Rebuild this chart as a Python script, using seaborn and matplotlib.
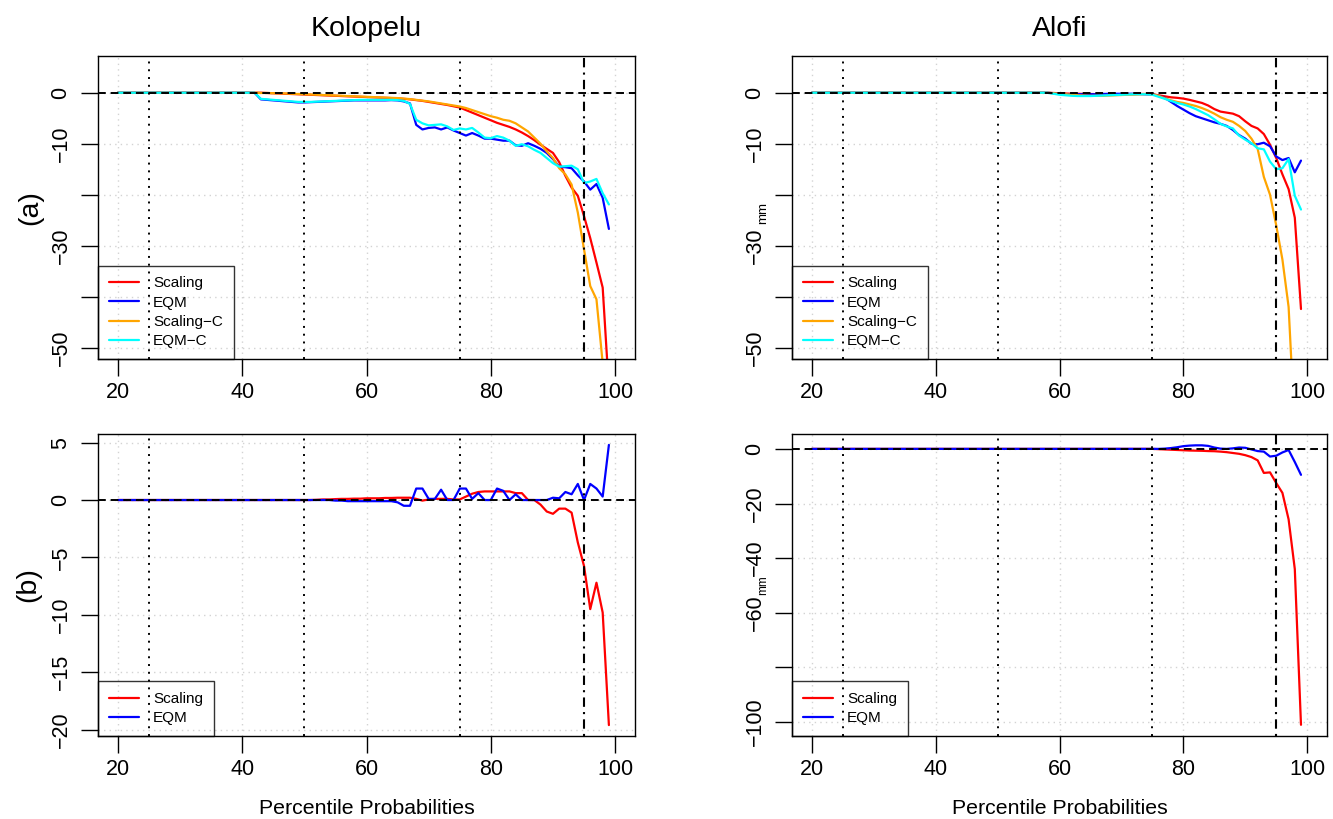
import matplotlib
matplotlib.use("Agg")
import matplotlib.pyplot as plt
import seaborn as sns
import pandas as pd
from matplotlib.lines import Line2D

# ---------------- data (percentile probability 20..99) ----------------
pct = [20, 21, 22, 23, 24, 25, 26, 27, 28, 29,
       30, 31, 32, 33, 34, 35, 36, 37, 38, 39,
       40, 41, 42, 43, 44, 45, 46, 47, 48, 49,
       50, 51, 52, 53, 54, 55, 56, 57, 58, 59,
       60, 61, 62, 63, 64, 65, 66, 67, 68, 69,
       70, 71, 72, 73, 74, 75, 76, 77, 78, 79,
       80, 81, 82, 83, 84, 85, 86, 87, 88, 89,
       90, 91, 92, 93, 94, 95, 96, 97, 98, 99]

# (a) Kolopelu
kol_scaling = [0, 0, 0, 0, 0, 0, 0, 0, 0, 0,
               0, 0, 0, 0, 0, 0, 0, 0, 0, 0,
               0, 0, 0, 0, -0.05, -0.1, -0.15, -0.2, -0.25, -0.3,
               -0.35, -0.4, -0.45, -0.5, -0.55, -0.6, -0.65, -0.7, -0.75, -0.8,
               -0.85, -0.9, -0.95, -1.0, -1.05, -1.1, -1.2, -1.3, -1.45, -1.6,
               -1.8, -2.0, -2.2, -2.4, -2.65, -2.9, -3.4, -3.9, -4.4, -4.9,
               -5.4, -5.9, -6.3, -6.7, -7.2, -7.8, -8.5, -9.3, -10.2, -11.0,
               -11.8, -13.6, -16.3, -18.6, -20.2, -24.2, -28.5, -33.3, -38.2, -58.0]
kol_eqm = [0, 0, 0, 0, 0, 0, 0, 0, 0, 0,
           0, 0, 0, 0, 0, 0, 0, 0, 0, 0,
           0, 0, 0, -1.3, -1.4, -1.5, -1.6, -1.7, -1.8, -1.9,
           -1.9, -1.85, -1.8, -1.75, -1.7, -1.65, -1.6, -1.55, -1.5, -1.5,
           -1.5, -1.5, -1.5, -1.5, -1.45, -1.5, -1.7, -2.1, -6.3, -7.2,
           -6.9, -6.8, -7.2, -6.8, -7.4, -7.9, -8.4, -7.9, -8.4, -9.0,
           -9.0, -9.2, -9.4, -9.4, -10.3, -10.4, -9.9, -10.4, -11.0, -11.8,
           -13.0, -14.5, -14.6, -14.8, -16.2, -17.4, -19.0, -17.9, -20.6, -26.7]
kol_scaling_c = [0, 0, 0, 0, 0, 0, 0, 0, 0, 0,
                 0, 0, 0, 0, 0, 0, 0, 0, 0, 0,
                 0, 0, 0, -0.05, -0.05, -0.1, -0.1, -0.15, -0.2, -0.25,
                 -0.3, -0.35, -0.4, -0.45, -0.5, -0.55, -0.6, -0.65, -0.7, -0.75,
                 -0.8, -0.85, -0.9, -0.95, -1.0, -1.05, -1.15, -1.25, -1.4, -1.55,
                 -1.7, -1.9, -2.1, -2.3, -2.5, -2.7, -3.0, -3.4, -3.8, -4.2,
                 -4.6, -4.9, -5.3, -5.5, -6.0, -6.8, -7.6, -8.8, -10.0, -11.5,
                 -12.8, -14.8, -16.0, -18.0, -23.5, -30.7, -37.9, -40.5, -53.0, -75.0]
kol_eqm_c = [0, 0, 0, 0, 0, 0, 0, 0, 0, 0,
             0, 0, 0, 0, 0, 0, 0, 0, 0, 0,
             0, 0, 0, -1.2, -1.3, -1.4, -1.5, -1.6, -1.7, -1.8,
             -1.8, -1.8, -1.75, -1.7, -1.65, -1.6, -1.55, -1.5, -1.45, -1.4,
             -1.4, -1.4, -1.4, -1.4, -1.4, -1.45, -1.6, -2.2, -5.3, -6.0,
             -6.4, -6.3, -6.2, -6.6, -7.3, -7.0, -7.2, -6.9, -7.8, -8.8,
             -8.9, -8.5, -8.8, -9.4, -10.4, -10.1, -10.5, -11.2, -11.8, -12.8,
             -13.8, -14.5, -14.4, -14.3, -15.0, -17.7, -17.4, -16.9, -19.7, -21.9]

# (a) Alofi
alo_scaling = [0, 0, 0, 0, 0, 0, 0, 0, 0, 0,
               0, 0, 0, 0, 0, 0, 0, 0, 0, 0,
               0, 0, 0, 0, 0, 0, 0, 0, 0, 0,
               0, 0, 0, 0, 0, 0, 0, 0, 0, -0.05,
               -0.1, -0.15, -0.2, -0.2, -0.25, -0.25, -0.3, -0.3, -0.3, -0.3,
               -0.3, -0.3, -0.3, -0.25, -0.25, -0.3, -0.5, -0.7, -0.9, -1.0,
               -1.15, -1.4, -1.7, -2.0, -2.5, -3.2, -3.7, -3.9, -4.1, -4.6,
               -5.6, -6.5, -7.0, -8.1, -10.2, -12.8, -16.0, -18.9, -24.5, -42.4]
alo_eqm = [0, 0, 0, 0, 0, 0, 0, 0, 0, 0,
           0, 0, 0, 0, 0, 0, 0, 0, 0, 0,
           0, 0, 0, 0, 0, 0, 0, 0, 0, 0,
           0, 0, 0, 0, 0, 0, 0, 0, 0, -0.1,
           -0.2, -0.3, -0.3, -0.3, -0.3, -0.3, -0.3, -0.25, -0.2, -0.2,
           -0.2, -0.2, -0.2, -0.25, -0.3, -0.3, -0.6, -1.0, -1.8, -2.6,
           -3.3, -4.0, -4.6, -5.0, -5.4, -5.8, -6.1, -6.5, -7.3, -8.3,
           -9.0, -10.0, -10.1, -9.8, -10.5, -12.5, -13.2, -12.8, -15.6, -13.3]
alo_scaling_c = [0, 0, 0, 0, 0, 0, 0, 0, 0, 0,
                 0, 0, 0, 0, 0, 0, 0, 0, 0, 0,
                 0, 0, 0, 0, 0, 0, 0, 0, 0, 0,
                 0, 0, 0, 0, 0, 0, 0, 0, 0, -0.1,
                 -0.2, -0.3, -0.4, -0.5, -0.55, -0.6, -0.6, -0.6, -0.55, -0.5,
                 -0.45, -0.4, -0.35, -0.3, -0.25, -0.3, -0.6, -1.1, -1.5, -1.8,
                 -2.0, -2.3, -2.6, -3.0, -3.5, -4.1, -4.8, -5.3, -5.7, -6.5,
                 -7.5, -9.0, -11.0, -16.5, -20.0, -26.0, -32.7, -42.0, -66.0, -90.0]
alo_eqm_c = [0, 0, 0, 0, 0, 0, 0, 0, 0, 0,
             0, 0, 0, 0, 0, 0, 0, 0, 0, 0,
             0, 0, 0, 0, 0, 0, 0, 0, 0, 0,
             0, 0, 0, 0, 0, 0, 0, 0, 0, -0.2,
             -0.4, -0.5, -0.6, -0.65, -0.65, -0.65, -0.6, -0.55, -0.5, -0.45,
             -0.4, -0.35, -0.3, -0.3, -0.3, -0.4, -0.8, -1.2, -1.6, -2.0,
             -2.3, -2.7, -3.2, -3.8, -4.4, -5.2, -6.1, -6.6, -7.0, -8.4,
             -9.2, -9.9, -10.9, -11.1, -13.5, -15.0, -14.8, -13.0, -20.2, -22.9]

# (b) Kolopelu
kol_d_scaling = [0, 0, 0, 0, 0, 0, 0, 0, 0, 0,
                 0, 0, 0, 0, 0, 0, 0, 0, 0, 0,
                 0, 0, 0, 0, 0, 0, 0, 0, 0, 0,
                 0, 0, 0.02, 0.05, 0.05, 0.08, 0.1, 0.1, 0.12, 0.12,
                 0.15, 0.15, 0.15, 0.18, 0.18, 0.2, 0.2, 0.2, 0.1, -0.05,
                 0.05, 0.1, 0.1, 0.1, 0.05, 0.05, 0.3, 0.55, 0.7, 0.75,
                 0.75, 0.75, 0.75, 0.75, 0.6, 0.6, 0.0, 0.0, -0.4, -1.0,
                 -1.2, -0.75, -0.75, -1.1, -3.7, -5.75, -9.5, -7.2, -9.8, -19.6]
kol_d_eqm = [0, 0, 0, 0, 0, 0, 0, 0, 0, 0,
             0, 0, 0, 0, 0, 0, 0, 0, 0, 0,
             0, 0, 0, 0, 0, 0, 0, 0, 0, 0,
             0, 0, 0, 0, 0, -0.05, -0.05, -0.1, -0.1, -0.1,
             -0.1, -0.1, -0.1, -0.1, -0.1, -0.2, -0.5, -0.5, 1.0, 1.0,
             0.1, 0.1, 0.9, 0.0, 0.0, 1.0, 1.0, 0.1, 0.6, 0.0,
             0.0, 1.0, 0.8, 0.0, 0.5, 0.0, 0.0, 0.0, 0.0, 0.0,
             0.2, 0.15, 0.7, 0.5, 1.4, 0.0, 1.4, 1.0, 0.3, 4.8]

# (b) Alofi
alo_d_scaling = [0, 0, 0, 0, 0, 0, 0, 0, 0, 0,
                 0, 0, 0, 0, 0, 0, 0, 0, 0, 0,
                 0, 0, 0, 0, 0, 0, 0, 0, 0, 0,
                 0, 0, 0, 0, 0, 0, 0, 0, 0, 0,
                 0, 0, 0, 0, 0, 0, 0, 0, 0, 0,
                 0, 0, 0, 0, 0, 0, -0.1, -0.2, -0.3, -0.4,
                 -0.5, -0.6, -0.65, -0.7, -0.8, -0.85, -1.0, -1.2, -1.5, -1.8,
                 -2.3, -3.0, -4.2, -8.8, -8.6, -12.5, -16.1, -25.8, -44.0, -101.0]
alo_d_eqm = [0, 0, 0, 0, 0, 0, 0, 0, 0, 0,
             0, 0, 0, 0, 0, 0, 0, 0, 0, 0,
             0, 0, 0, 0, 0, 0, 0, 0, 0, 0,
             0, 0, 0, 0, 0, 0, 0, 0, 0, 0,
             0, 0, 0, 0, 0, 0, 0, 0, 0, 0,
             0, 0, 0, 0, 0, 0, 0, 0.1, 0.3, 0.6,
             1.0, 1.2, 1.3, 1.3, 1.1, 0.5, 0.1, 0.0, 0.2, 0.5,
             0.4, -0.2, -0.8, -1.0, -2.8, -2.5, -1.3, -0.4, -4.8, -9.5]

labels_a = ["Scaling", "EQM", "Scaling\u2212C", "EQM\u2212C"]
labels_b = ["Scaling", "EQM"]
colors_a = ["#FF0000", "#0000FF", "#FFA500", "#00FFFF"]
colors_b = ["#FF0000", "#0000FF"]

x_ticks = [20, 40, 60, 80, 100]
x_ticklabels = ["20", "40", "60", "80", "100"]
ya_ticks = [0, -10, -20, -30, -40, -50]
ya_ticklabels = ["0", "\u221210", "", "\u221230", "", "\u221250"]
ybl_ticks = [5, 0, -5, -10, -15, -20]
ybl_ticklabels = ["5", "0", "\u22125", "\u221210", "\u221215", "\u221220"]
ybr_ticks = [0, -20, -40, -60, -80, -100]
ybr_ticklabels = ["0", "\u221220", "\u221240", "\u221260", "", "\u2212100"]

# ---------------- styling ----------------
sns.set_style("white")
plt.rcParams["font.family"] = ["Liberation Sans", "DejaVu Sans"]
plt.rcParams["axes.unicode_minus"] = True
plt.rcParams["text.color"] = "black"
plt.rcParams["axes.labelcolor"] = "black"
plt.rcParams["xtick.color"] = "black"
plt.rcParams["ytick.color"] = "black"

W, H = 1333, 819
fig = plt.figure(figsize=(W / 100, H / 100), dpi=100)


def rect(x0, y0, x1, y1):
    return [x0 / W, 1 - y1 / H, (x1 - x0) / W, (y1 - y0) / H]


def panel(ax, series, labels, colors, ylim, yticks, yticklabels):
    frames = []
    for vals, lab in zip(series, labels):
        frames.append(pd.DataFrame({"pct": pct, "value": vals, "method": lab}))
    df = pd.concat(frames, ignore_index=True)
    sns.lineplot(data=df, x="pct", y="value", hue="method", hue_order=labels,
                 palette=dict(zip(labels, colors)), estimator=None, sort=False,
                 linewidth=1.6, legend=False, ax=ax, zorder=2)
    ax.set_xlim(16.8, 103.2)
    ax.set_ylim(*ylim)
    ax.set_xticks(x_ticks)
    ax.set_xticklabels(x_ticklabels)
    ax.set_yticks(yticks)
    ax.set_yticklabels(yticklabels)
    ax.set_xlabel("")
    ax.set_ylabel("")
    ax.grid(True, color="#D3D3D3", linestyle=(0, (1, 3)), linewidth=1.0)
    ax.set_axisbelow(True)
    for s in ax.spines.values():
        s.set_visible(True)
        s.set_color("black")
        s.set_linewidth(1.0)
    ax.tick_params(axis="both", direction="out", length=12, width=1.0,
                   labelsize=15.5, colors="black", labelcolor="black",
                   bottom=True, left=True)
    ax.tick_params(axis="x", pad=4.5)
    ax.tick_params(axis="y", pad=7, labelrotation=90)
    for t in ax.get_yticklabels():
        t.set_va("center")
    # reference lines
    ax.axhline(0, color="black", linestyle=(0, (4, 2.5)), linewidth=1.4, zorder=3)
    for xv in (25, 50, 75):
        ax.axvline(xv, color="black", linestyle=(0, (1, 3)), linewidth=1.4, zorder=3)
    ax.axvline(95, color="black", linestyle=(0, (1, 2.5, 4.5, 2.5)), linewidth=1.5, zorder=3)
    handles = [Line2D([0], [0], color=c, linewidth=1.6) for c in colors]
    leg = ax.legend(handles, labels, loc="lower left", bbox_to_anchor=(0, 0),
                    borderaxespad=0, frameon=True, fancybox=False,
                    edgecolor="black", facecolor="none", fontsize=11.0,
                    handlelength=2.0, handletextpad=0.9, borderpad=0.7,
                    labelspacing=0.35)
    leg.get_frame().set_linewidth(1.0)
    for t in leg.get_texts():
        t.set_color("black")


ax_tl = fig.add_axes(rect(98, 56, 635, 359))
ax_tr = fig.add_axes(rect(792, 56, 1327, 359))
ax_bl = fig.add_axes(rect(98, 434, 635, 736))
ax_br = fig.add_axes(rect(792, 434, 1327, 736))

panel(ax_tl, [kol_scaling, kol_eqm, kol_scaling_c, kol_eqm_c], labels_a, colors_a,
      (-52.2, 7.2), ya_ticks, ya_ticklabels)
panel(ax_tr, [alo_scaling, alo_eqm, alo_scaling_c, alo_eqm_c], labels_a, colors_a,
      (-52.2, 7.2), ya_ticks, ya_ticklabels)
panel(ax_bl, [kol_d_scaling, kol_d_eqm], labels_b, colors_b,
      (-20.55, 5.75), ybl_ticks, ybl_ticklabels)
panel(ax_br, [alo_d_scaling, alo_d_eqm], labels_b, colors_b,
      (-105.1, 5.45), ybr_ticks, ybr_ticklabels)

# titles and axis labels
fig.text(366.5 / W, 1 - 36 / H, "Kolopelu", ha="center", va="baseline", fontsize=20.5)
fig.text(1059.5 / W, 1 - 36 / H, "Alofi", ha="center", va="baseline", fontsize=20.5)
fig.text(30 / W, 1 - 207.5 / H, "(a)", ha="center", va="center", rotation=90, fontsize=20.5)
fig.text(28 / W, 1 - 585 / H, "(b)", ha="center", va="center", rotation=90, fontsize=20.5)
fig.text(763 / W, 1 - 213 / H, "mm", ha="center", va="center", rotation=90, fontsize=9.5)
fig.text(763 / W, 1 - 585.5 / H, "mm", ha="center", va="center", rotation=90, fontsize=8.5)
fig.text(366.5 / W, 1 - 814 / H, "Percentile Probabilities", ha="center", va="baseline", fontsize=15.3)
fig.text(1059.5 / W, 1 - 814 / H, "Percentile Probabilities", ha="center", va="baseline", fontsize=15.3)

fig.savefig("out.png", dpi=100)
